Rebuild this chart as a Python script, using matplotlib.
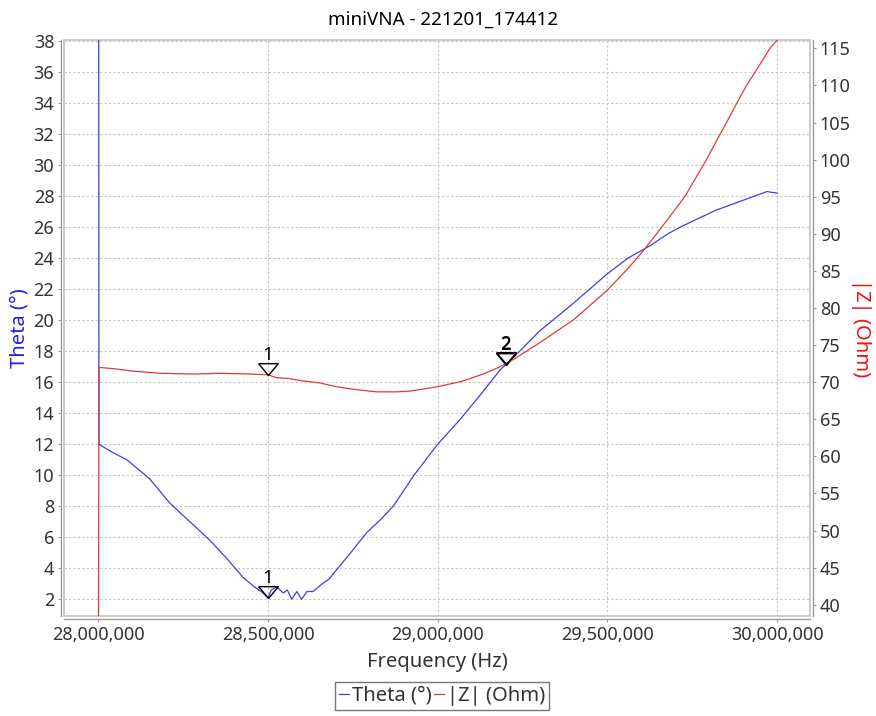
import matplotlib
matplotlib.use('Agg')
import matplotlib.pyplot as plt
import matplotlib.patches as patches
from matplotlib.ticker import FuncFormatter, MultipleLocator
import numpy as np

plt.rcParams['font.family'] = ['Noto Sans', 'DejaVu Sans']

# sweep data (frequency in MHz)
freq_theta = [28.0, 28.002, 28.04, 28.084, 28.15, 28.211, 28.27, 28.329, 28.38,
              28.427, 28.46, 28.48, 28.5, 28.51, 28.526, 28.545, 28.557, 28.57,
              28.585, 28.599, 28.615, 28.633, 28.66, 28.68, 28.702, 28.74, 28.791,
              28.83, 28.869, 28.93, 29.0, 29.066, 29.13, 29.184, 29.228, 29.3,
              29.4, 29.5, 29.56, 29.625, 29.68, 29.723, 29.82, 29.92, 29.97, 30.0]
theta = [90.0, 12.0, 11.5, 11.0, 9.8, 8.2, 7.0, 5.8, 4.6,
         3.4, 2.8, 2.5, 2.1, 2.6, 2.8, 2.4, 2.6, 2.0,
         2.5, 2.0, 2.5, 2.5, 3.0, 3.3, 3.9, 4.9, 6.3,
         7.1, 8.0, 10.0, 12.0, 13.6, 15.3, 16.8, 17.7, 19.3,
         21.1, 23.0, 24.0, 24.8, 25.6, 26.1, 27.1, 27.9, 28.3, 28.2]

freq_z = [28.0, 28.002, 28.05, 28.1, 28.182, 28.28, 28.359, 28.45, 28.5, 28.526,
          28.56, 28.6, 28.653, 28.7, 28.76, 28.82, 28.88, 28.918, 28.96, 29.0,
          29.07, 29.134, 29.18, 29.228, 29.3, 29.4, 29.5, 29.56, 29.6, 29.645,
          29.69, 29.728, 29.76, 29.792, 29.82, 29.851, 29.88, 29.91, 29.945,
          29.979, 30.0]
z_ohm = [20.0, 72.0, 71.8, 71.5, 71.2, 71.1, 71.2, 71.1, 71.0, 70.6,
         70.5, 70.2, 69.9, 69.4, 69.0, 68.7, 68.7, 68.8, 69.1, 69.4,
         70.1, 71.1, 72.0, 73.2, 75.3, 78.4, 82.4, 85.3, 87.4, 90.0,
         92.7, 95.0, 97.5, 100.0, 102.4, 105.0, 107.5, 110.0, 112.5,
         115.0, 116.1]

marker_freq = [28.5, 29.2]
marker_names = ['1', '2']

blue = '#4040dd'
red = '#e03a3a'
grid_c = '#c4c4c4'
axis_c = '#999999'
txt_c = '#333333'

fig = plt.figure(figsize=(8.76, 7.16), dpi=100)
ax = fig.add_axes([64 / 876, 1 - 616 / 716, 746 / 876, 576 / 716])
ax2 = ax.twinx()

fth = np.array(freq_theta) * 1e6
fz = np.array(freq_z) * 1e6
l1, = ax.plot(fth, theta, color=blue, lw=0.9, zorder=3)
l2, = ax2.plot(fz, z_ohm, color=red, lw=0.9, zorder=3)

ax.set_xlim(27.899e6, 30.097e6)
ax.set_ylim(0.92, 38.08)
ax2.set_ylim(38.49, 116.12)

ax.xaxis.set_major_locator(MultipleLocator(500000))
ax.xaxis.set_major_formatter(FuncFormatter(lambda v, p: '{:,.0f}'.format(v)))
ax.yaxis.set_major_locator(MultipleLocator(2))
ax2.yaxis.set_major_locator(MultipleLocator(5))

ax.grid(True, color=grid_c, ls=(0, (2, 2)), lw=0.8)
ax.set_axisbelow(True)

for a in (ax, ax2):
    for s in a.spines.values():
        s.set_visible(False)
    a.tick_params(direction='out', length=2.5, color=axis_c, labelcolor=txt_c,
                  labelsize=13, pad=2)
ax.spines['left'].set_visible(True)
ax.spines['bottom'].set_visible(True)
ax2.spines['right'].set_visible(True)
for s in (ax.spines['left'], ax.spines['bottom'], ax2.spines['right']):
    s.set_position(('outward', 2.5))
    s.set_color(axis_c)
    s.set_linewidth(1)
ax.add_patch(patches.Rectangle((0, 0), 1, 1, transform=ax.transAxes, fill=False,
                               edgecolor='#c8c8c8', lw=1.3, clip_on=False, zorder=1))

# hollow down-pointing triangles with apex on the trace
tri = [(-1, 1.2), (1, 1.2), (0, 0), (-1, 1.2)]
for a, fx, fy in ((ax, fth, theta), (ax2, fz, z_ohm)):
    for mf, name in zip(marker_freq, marker_names):
        my = np.interp(mf * 1e6, fx, fy)
        a.plot([mf * 1e6], [my], marker=tri, ms=17, mfc='none', mec='black',
               mew=1, ls='none', zorder=5)
        a.annotate(name, (mf * 1e6, my), xytext=(0, 8), textcoords='offset points',
                   ha='center', va='bottom', fontsize=13.5, color='black', zorder=6)

ax.set_ylabel('Theta (°)', color='#2222ee', fontsize=14.5, labelpad=3)
ax2.set_ylabel('|Z| (Ohm)', color='#ee1111', fontsize=14.5, rotation=-90,
               va='bottom', labelpad=0)
ax.set_xlabel('Frequency (Hz)', color=txt_c, fontsize=14.5, labelpad=6)

fig.text(443 / 876, 1 - 20 / 716, 'miniVNA - 221201_174412', ha='center', va='center',
         fontsize=13.5, color='black')

leg = fig.legend([l1, l2], ['Theta (°)', '|Z| (Ohm)'], loc='center',
                 bbox_to_anchor=(442 / 876, 1 - 696 / 716), ncol=2, fancybox=False,
                 edgecolor='#555555', handlelength=0.5, handletextpad=0.15,
                 columnspacing=0.1, borderpad=0.2, fontsize=14.5, labelcolor=txt_c)
leg.get_frame().set_linewidth(1)

fig.savefig('out.png', dpi=100)
